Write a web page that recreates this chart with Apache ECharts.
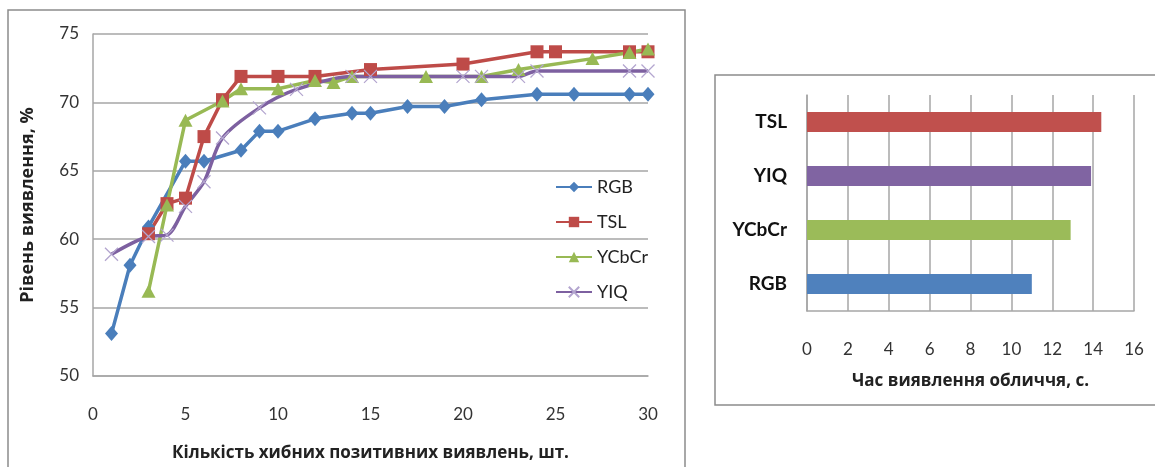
<!DOCTYPE html>
<html>
<head>
<meta charset="utf-8">
<script src="https://cdn.jsdelivr.net/npm/echarts@6/dist/echarts.min.js"></script>
<style>
  html, body { margin: 0; padding: 0; background: #ffffff; }
  #chart { width: 1155px; height: 467px; }
</style>
</head>
<body>
<div id="chart"></div>
<script>
// left chart: detection rate vs false positives
var rgbData = [[1, 53.1], [2, 58.1], [3, 60.9], [5, 65.7], [6, 65.7], [8, 66.5], [9, 67.9], [10, 67.9],
  [12, 68.8], [14, 69.2], [15, 69.2], [17, 69.7], [19, 69.7], [21, 70.2], [24, 70.6], [26, 70.6], [29, 70.6], [30, 70.6]]
var tslData = [[3, 60.4], [4, 62.6], [5, 63.0], [6, 67.5], [7, 70.2], [8, 71.9], [10, 71.9], [12, 71.9],
  [15, 72.4], [20, 72.8], [24, 73.7], [25, 73.7], [29, 73.7], [30, 73.7]]
var ycbcrData = [[3, 56.2], [4, 62.5], [5, 68.7], [7, 70.1], [8, 71.0], [10, 71.0], [12, 71.6], [13, 71.45],
  [14, 71.9], [18, 71.9], [21, 71.9], [23, 72.4], [27, 73.2], [29, 73.65], [30, 73.9]]
var yiqData = [[1, 58.9], [3, 60.2], [4, 60.3], [5, 62.4], [6, 64.2], [7, 67.4], [9, 69.6], [11, 70.95],
  [14, 71.9], [15, 71.9], [20, 71.9], [21, 71.9], [23, 71.9], [24, 72.3], [29, 72.3], [30, 72.3]]

// right chart: detection time
var timeCats = ['RGB', 'YCbCr', 'YIQ', 'TSL']
var timeValues = [11.0, 12.9, 13.9, 14.4]
var timeColors = ['#4f81bd', '#9bbb59', '#8064a2', '#c0504d']

var font = 'Lato, "Open Sans", "Noto Sans", sans-serif'
var cyrFont = '"Open Sans", "Noto Sans", sans-serif'
var gridColor = '#a6a6a6'
var labelColor = '#333333'

var chart = echarts.init(document.getElementById('chart'))
var option = {
  backgroundColor: '#ffffff',
  animation: false,
  textStyle: { fontFamily: font },
  graphic: [
    {
      type: 'rect',
      shape: { x: 8, y: 10, width: 677, height: 480 },
      style: { fill: 'none', stroke: '#8c8c8c', lineWidth: 1.5 }
    },
    {
      type: 'rect',
      shape: { x: 715, y: 75, width: 460, height: 330 },
      style: { fill: 'none', stroke: '#8c8c8c', lineWidth: 1.5 }
    }
  ],
  legend: {
    data: ['RGB', 'TSL', 'YCbCr', 'YIQ'],
    orient: 'vertical',
    left: 550,
    top: 173,
    itemWidth: 36,
    itemHeight: 13,
    itemGap: 17,
    textStyle: { fontSize: 18, color: '#222', fontFamily: font }
  },
  grid: [
    { left: 93, top: 34, width: 555, height: 342, outerBoundsMode: 'none' },
    { left: 807, top: 95, width: 327, height: 216, outerBoundsMode: 'none' }
  ],
  xAxis: [
    {
      gridIndex: 0,
      type: 'value',
      min: 0,
      max: 30,
      interval: 5,
      name: 'Кількість хибних позитивних виявлень, шт.',
      nameLocation: 'middle',
      nameGap: 69,
      nameTextStyle: { fontSize: 17, fontWeight: 'bold', color: '#222', fontFamily: cyrFont },
      axisLine: { show: true, lineStyle: { color: gridColor, width: 1.5 } },
      axisTick: { show: false },
      splitLine: { show: false },
      axisLabel: { fontSize: 17, color: labelColor, margin: 30 }
    },
    {
      gridIndex: 1,
      type: 'value',
      min: 0,
      max: 16,
      interval: 2,
      name: 'Час виявлення обличчя, с.',
      nameLocation: 'middle',
      nameGap: 62,
      nameTextStyle: { fontSize: 17, fontWeight: 'bold', color: '#222', fontFamily: cyrFont },
      axisLine: { show: true, lineStyle: { color: gridColor, width: 1.5 } },
      axisTick: { show: false },
      splitLine: { show: true, lineStyle: { color: gridColor, width: 1.5 } },
      axisLabel: { fontSize: 17, color: labelColor, margin: 30 }
    }
  ],
  yAxis: [
    {
      gridIndex: 0,
      type: 'value',
      min: 50,
      max: 75,
      interval: 5,
      name: 'Рівень виявлення, %',
      nameLocation: 'middle',
      nameGap: 56,
      nameTextStyle: { fontSize: 18, fontWeight: 'bold', color: '#222', fontFamily: cyrFont },
      axisLine: { show: true, lineStyle: { color: gridColor, width: 1.5 } },
      axisTick: { show: false },
      splitLine: { show: true, lineStyle: { color: gridColor, width: 1.5 } },
      axisLabel: { fontSize: 17, color: labelColor, margin: 14 }
    },
    {
      gridIndex: 1,
      type: 'category',
      data: timeCats,
      axisLine: { show: true, lineStyle: { color: gridColor, width: 1.5 } },
      axisTick: { show: false },
      axisLabel: { fontSize: 19, fontWeight: 'bold', color: '#111', margin: 20 }
    }
  ],
  series: [
    {
      name: 'RGB',
      type: 'line',
      xAxisIndex: 0,
      yAxisIndex: 0,
      data: rgbData,
      symbol: 'diamond',
      symbolSize: [13, 15],
      lineStyle: { color: '#4a7ebb', width: 3.5 },
      itemStyle: { color: '#4a7ebb' }
    },
    {
      name: 'TSL',
      type: 'line',
      xAxisIndex: 0,
      yAxisIndex: 0,
      data: tslData,
      symbol: 'rect',
      symbolSize: 13,
      lineStyle: { color: '#be4b48', width: 3.5 },
      itemStyle: { color: '#be4b48' }
    },
    {
      name: 'YCbCr',
      type: 'line',
      xAxisIndex: 0,
      yAxisIndex: 0,
      data: ycbcrData,
      symbol: 'triangle',
      symbolSize: [14, 13],
      lineStyle: { color: '#98b954', width: 3.5 },
      itemStyle: { color: '#98b954' }
    },
    {
      name: 'YIQ',
      type: 'line',
      xAxisIndex: 0,
      yAxisIndex: 0,
      data: yiqData,
      smooth: 0.3,
      symbol: 'path://M0,0L10,10M10,0L0,10',
      symbolSize: 13,
      lineStyle: { color: '#7d60a0', width: 3.5 },
      itemStyle: { color: 'none', borderColor: '#b3a5cf', borderWidth: 1.3 }
    },
    {
      name: 'time',
      type: 'bar',
      xAxisIndex: 1,
      yAxisIndex: 1,
      barWidth: 20,
      data: timeValues.map(function (v, i) {
        return { value: v, itemStyle: { color: timeColors[i] } }
      })
    }
  ]
}
chart.setOption(option)
</script>
</body>
</html>
